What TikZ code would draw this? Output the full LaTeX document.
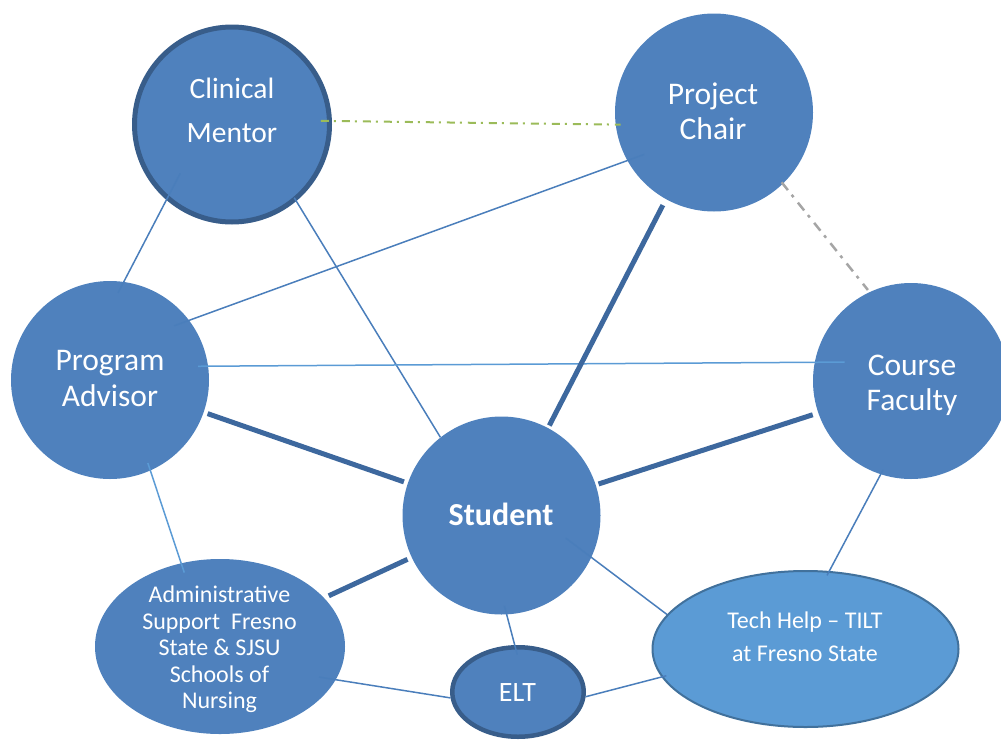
\documentclass[tikz,border=0pt]{standalone}
\usepackage{fontspec}
\setmainfont{Carlito}
\usetikzlibrary{shapes.geometric}
\definecolor{fillblue}{HTML}{4F81BD}
\definecolor{darkrim}{HTML}{385D8A}
\definecolor{techfill}{HTML}{5B9BD5}
\definecolor{techrim}{HTML}{41719C}
\definecolor{thinblue}{HTML}{4A7EBB}
\definecolor{lightblue}{HTML}{5B9BD5}
\definecolor{thickblue}{HTML}{3D689E}
\definecolor{greenline}{HTML}{9BBB59}
\definecolor{greyline}{HTML}{A5A5A5}
\tikzset{
  bigcircle/.style={circle, fill=fillblue, draw=none, inner sep=0pt, minimum size=198pt},
  rimcircle/.style={circle, fill=fillblue, draw=darkrim, line width=5pt, inner sep=0pt, minimum size=195pt},
  bluetext/.style={text=white, align=center, inner sep=0pt},
  thinline/.style={draw=thinblue, line width=1.5pt},
  lightline/.style={draw=lightblue, line width=1.5pt},
  thickline/.style={draw=thickblue, line width=5pt},
  greendash/.style={draw=greenline, line width=2pt, dash pattern=on 8pt off 5pt on 2pt off 6pt},
  greydash/.style={draw=greyline, line width=2.5pt, dash pattern=on 10pt off 6pt on 3pt off 7pt}
}
\begin{document}
\begin{tikzpicture}[x=1pt,y=-1pt]
\useasboundingbox (0,0) rectangle (1001,742);
% shapes
\node[rimcircle] (cm) at (232,124.5) {};
\node[bigcircle] (pc) at (714,112.5) {};
\node[bigcircle] (pa) at (110,380) {};
\node[bigcircle, minimum size=196pt] (cf) at (911,381) {};
\node[bigcircle] (st) at (501.5,515.5) {};
\node[ellipse, fill=fillblue, draw=none, inner sep=0pt, minimum width=250pt, minimum height=175pt] (ad) at (220,646.5) {};
\node[ellipse, fill=fillblue, draw=darkrim, line width=4.5pt, inner sep=0pt, minimum width=131.5pt, minimum height=89.5pt] (elt) at (518,692) {};
\node[ellipse, fill=techfill, draw=techrim, line width=2pt, inner sep=0pt, minimum width=306pt, minimum height=156pt] (th) at (805.5,649) {};
% connectors
\draw[thinline, shorten <=-30pt, shorten >=-12.5pt] (cm.229) -- (pa.82);
\draw[thinline, shorten <=-4pt] (cm.310) -- (st.128);
\draw[greendash, shorten <=-11pt, shorten >=-5pt] (cm.2) -- (pc.187.6);
\draw[thinline, shorten <=-16pt, shorten >=-18pt] (pa.37.5) -- (pc.209.5);
\draw[lightline, shorten <=-10pt, shorten >=-30pt] (pa.8.7) -- (cf.169.4);
\draw[thickline, shorten <=4pt, shorten >=4pt] (pa.341.4) -- (st.161.6);
\draw[thickline, shorten <=6.6pt, shorten >=2.7pt] (pc.241.1) -- (st.62.8);
\draw[thickline, shorten <=5.7pt, shorten >=2.8pt] (cf.199.1) -- (st.18.6);
\draw[greydash, shorten <=-2pt, shorten >=2.6pt] (pc.314.4) -- (cf.115.3);
\draw[lightline, shorten <=-8pt, shorten >=-10pt] (pa.294) -- (ad.115.7);
\draw[thickline, shorten <=4.5pt, shorten >=5pt] (st.205.5) -- (ad.25.5);
\draw[thinline, shorten <=-9pt, shorten >=-10pt] (st.273.5) -- (elt.94.9);
\draw[thinline, shorten <=-32pt] (st.335.5) -- (th.166.4);
\draw[thinline, shorten <=-5pt, shorten >=-5pt] (cf.252.5) -- (th.73.3);
\draw[thinline, shorten <=-17pt] (ad.344.9) -- (elt.185);
\draw[thinline, shorten >=-5pt] (elt.356) -- (th.191.4);
% texts
\node[bluetext, font=\fontsize{29.5}{44}\selectfont] (cmt) at (232,110) {Clinical\\Mentor};
\node[bluetext, font=\fontsize{31.5}{35}\selectfont] (pct) at (713,111.7) {Project\\Chair};
\node[bluetext, font=\fontsize{31.5}{36}\selectfont] (pat) at (110,379) {Program\\Advisor};
\node[bluetext, font=\fontsize{31.5}{35.3}\selectfont] (cft) at (912,385) {Course\\Faculty};
\node[bluetext, font=\fontsize{32}{36}\selectfont\bfseries] (stt) at (501,514.5) {Student};
\node[bluetext, font=\fontsize{24}{26.5}\selectfont] (adt) at (219.5,649.5) {Administrative\\Support\ \ Fresno\\State \& SJSU\\Schools of\\Nursing};
\node[bluetext, font=\fontsize{28}{32}\selectfont] (eltt) at (517.5,692.5) {ELT};
\node[bluetext, font=\fontsize{24}{33}\selectfont] (tht) at (805,637) {Tech Help – TILT\\at Fresno State};
\end{tikzpicture}
\end{document}
